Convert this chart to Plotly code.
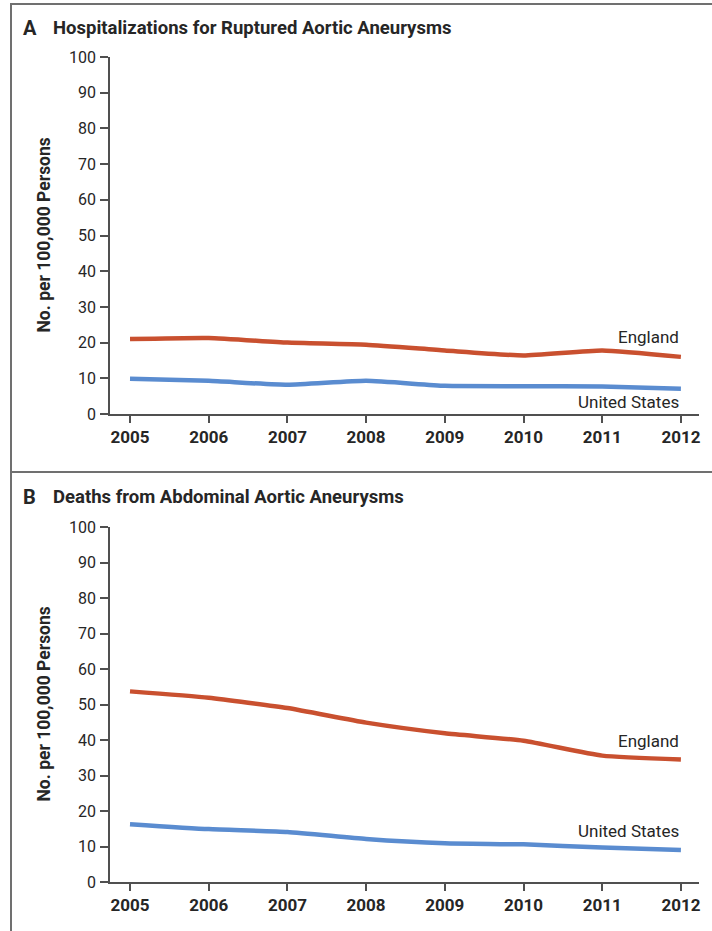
import plotly.graph_objects as go

W, H = 712, 931

years = [2005, 2006, 2007, 2008, 2009, 2010, 2011, 2012]

# Panel A: hospitalizations for ruptured aortic aneurysms (per 100,000)
hosp_england = [21.0, 21.3, 20.0, 19.4, 17.8, 16.4, 17.8, 16.0]
hosp_us = [9.9, 9.3, 8.2, 9.3, 7.9, 7.8, 7.7, 7.1]

# Panel B: deaths from abdominal aortic aneurysms (per 100,000)
death_england = [53.7, 51.9, 49.0, 44.9, 41.9, 39.8, 35.6, 34.5]
death_us = [16.3, 14.9, 14.1, 12.1, 10.9, 10.6, 9.7, 9.0]

y_ticks = [0, 10, 20, 30, 40, 50, 60, 70, 80, 90, 100]
panel_titles = ["Hospitalizations for Ruptured Aortic Aneurysms",
                "Deaths from Abdominal Aortic Aneurysms"]
panel_letters = ["A", "B"]
series_names = ["England", "United States"]
y_title = "No. per 100,000 Persons"

RED = "#C9502F"
BLUE = "#5A8CD0"
TEXT = "#262626"
AXIS = "#505050"
FRAME = "#707070"
FONT = "Roboto, Lato, sans-serif"


def px_x(p):
    return p / W


def px_y(p):
    return 1 - p / H


fig = go.Figure()

# (england, us, x axis, y axis, top px, bottom px)
panels = [
    (hosp_england, hosp_us, "x", "y", 57, 414),
    (death_england, death_us, "x2", "y2", 527, 882),
]

for eng, us, xa, ya, _, _ in panels:
    fig.add_trace(go.Scatter(x=years, y=us, xaxis=xa, yaxis=ya, mode="lines",
                             line=dict(color=BLUE, width=4.5, shape="spline", smoothing=0.5),
                             showlegend=False, hoverinfo="skip"))
    fig.add_trace(go.Scatter(x=years, y=eng, xaxis=xa, yaxis=ya, mode="lines",
                             line=dict(color=RED, width=4.5, shape="spline", smoothing=0.5),
                             showlegend=False, hoverinfo="skip"))

x_domain = [px_x(110), px_x(699)]
x_range = [2005 - 20 / 78.7, 2005 + (699 - 130) / 78.7]

axis_common_x = dict(
    range=x_range, domain=x_domain, tickmode="array", tickvals=years,
    ticktext=[str(y) for y in years], ticks="outside", ticklen=7, tickwidth=1.5,
    tickcolor=AXIS, showline=True, linecolor=AXIS, linewidth=1.5, showgrid=False,
    zeroline=False, tickfont=dict(family=FONT, size=17, color=TEXT, weight="bold"),
    automargin=False, fixedrange=True,
)
axis_common_y = dict(
    range=[0, 100], tickmode="array", tickvals=y_ticks,
    ticks="outside", ticklen=8, tickwidth=1.5, tickcolor=AXIS,
    showline=True, linecolor=AXIS, linewidth=1.5, showgrid=False, zeroline=False,
    tickfont=dict(family=FONT, size=16, color=TEXT), ticklabelstandoff=1,
    automargin=False, fixedrange=True,
)

fig.update_layout(
    width=W, height=H, margin=dict(l=0, r=0, t=0, b=0, autoexpand=False),
    paper_bgcolor="white", plot_bgcolor="white",
    xaxis=dict(axis_common_x, anchor="y"),
    yaxis=dict(axis_common_y, anchor="x", domain=[px_y(414), px_y(57)]),
    xaxis2=dict(axis_common_x, anchor="y2"),
    yaxis2=dict(axis_common_y, anchor="x2", domain=[px_y(882), px_y(527)]),
)

# Frame lines around and between the two panels
shapes = [
    dict(type="line", xref="paper", yref="paper", x0=px_x(11), x1=1.0,
         y0=px_y(4), y1=px_y(4), line=dict(color=FRAME, width=2)),
    dict(type="line", xref="paper", yref="paper", x0=px_x(11), x1=px_x(11),
         y0=px_y(3), y1=0, line=dict(color=FRAME, width=2)),
    dict(type="line", xref="paper", yref="paper", x0=px_x(11), x1=1.0,
         y0=px_y(472), y1=px_y(472), line=dict(color=FRAME, width=2)),
]
fig.update_layout(shapes=shapes)

annotations = []
title_rows = [28, 497]
for letter, title, yc in zip(panel_letters, panel_titles, title_rows):
    annotations.append(dict(text="<b>" + letter + "</b>", xref="paper", yref="paper",
                            x=px_x(21), y=px_y(yc), xanchor="left", yanchor="middle",
                            showarrow=False, font=dict(family=FONT, size=20, color=TEXT)))
    annotations.append(dict(text="<b>" + title + "</b>", xref="paper", yref="paper",
                            x=px_x(51), y=px_y(yc), xanchor="left", yanchor="middle",
                            showarrow=False, font=dict(family=FONT, size=18.5, color=TEXT)))

# Rotated y-axis titles, centred on each panel's plot area
for _, _, _, _, top, bottom in panels:
    annotations.append(dict(text="<b>" + y_title + "</b>", xref="paper", yref="paper",
                            x=px_x(43), y=px_y((top + bottom) / 2), textangle=-90,
                            xanchor="center", yanchor="middle", showarrow=False,
                            font=dict(family=FONT, size=17.5, color=TEXT)))

# Series labels at the right end of each line
label_rows = [(337, 402), (741, 831)]
for y_eng, y_us in label_rows:
    for name, yc in zip(series_names, [y_eng, y_us]):
        annotations.append(dict(text=name, xref="paper", yref="paper",
                                x=px_x(681), y=px_y(yc), xanchor="right", yanchor="middle",
                                showarrow=False, font=dict(family=FONT, size=17, color=TEXT)))

fig.update_layout(annotations=annotations)

fig.write_html("out.html")
